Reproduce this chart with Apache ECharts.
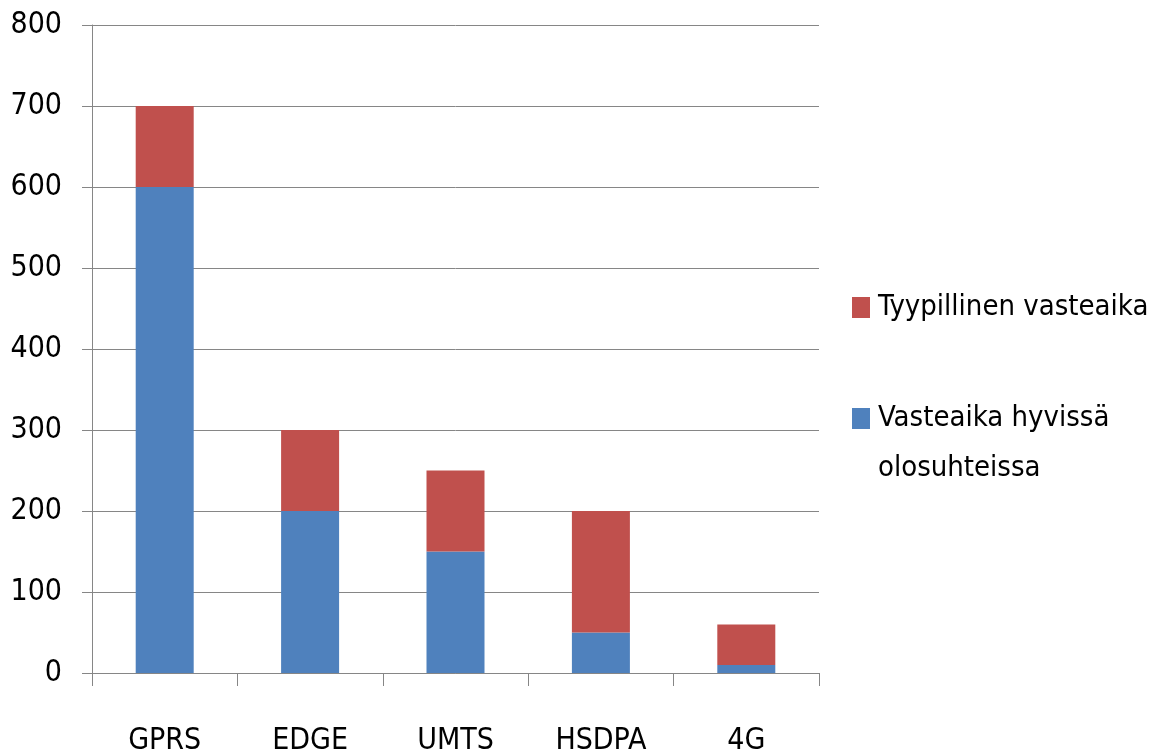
<!DOCTYPE html>
<html><head><meta charset="utf-8">
<script src="https://cdn.jsdelivr.net/npm/echarts@6/dist/echarts.min.js"></script>
<style>html,body{margin:0;padding:0;background:#fff}#c{width:1167px;height:756px}</style>
</head><body><div id="c"></div>
<script>
const categories = ['GPRS', 'EDGE', 'UMTS', 'HSDPA', '4G'];
const goodConditions = [600, 200, 150, 50, 10];
const typical = [100, 100, 100, 150, 50];
const seriesNames = ['Vasteaika hyvissä olosuhteissa', 'Tyypillinen vasteaika'];
const blueLegendLines = ['Vasteaika hyvissä', 'olosuhteissa'];
const yTicks = { min: 0, max: 800, interval: 100 };

const FONT = '"DejaVu Sans Condensed", sans-serif';
const chart = echarts.init(document.getElementById('c'));
chart.setOption({
  animation: false,
  textStyle: { fontFamily: FONT },
  grid: { left: 92, right: 348, top: 25, bottom: 81, containLabel: false },
  legend: [
    { orient: 'vertical', left: 852, top: 293, padding: 0, itemWidth: 18, itemHeight: 21, itemGap: 0,
      data: [seriesNames[1]], icon: 'rect',
      textStyle: { fontFamily: FONT, fontSize: 29, color: '#000', lineHeight: 21, padding: [0, 0, 0, 3] } },
    { orient: 'vertical', left: 852, top: 404, padding: 0, itemWidth: 18, itemHeight: 21, itemGap: 0,
      data: [seriesNames[0]], icon: 'rect',
      formatter: () => blueLegendLines[0],
      textStyle: { fontFamily: FONT, fontSize: 29, color: '#000', lineHeight: 21, padding: [0, 0, 0, 3] } }
  ],
  graphic: [
    { type: 'text', left: 878, top: 454,
      style: { text: blueLegendLines[1], fontFamily: FONT, fontSize: 29, fill: '#000' } }
  ],
  xAxis: {
    type: 'category', data: categories,
    axisLine: { lineStyle: { color: '#868686', width: 1 } },
    axisTick: { show: true, length: 13, alignWithLabel: false, lineStyle: { color: '#868686' } },
    axisLabel: { fontFamily: FONT, fontSize: 30, color: '#000', margin: 53 }
  },
  yAxis: {
    type: 'value', min: yTicks.min, max: yTicks.max, interval: yTicks.interval,
    axisLine: { show: true, lineStyle: { color: '#868686', width: 1 } },
    axisTick: { show: true, length: 10, lineStyle: { color: '#868686' } },
    splitLine: { lineStyle: { color: '#868686', width: 1 } },
    axisLabel: { fontFamily: FONT, fontSize: 30, color: '#000', margin: 30 }
  },
  series: [
    { name: seriesNames[0], type: 'bar', stack: 's', data: goodConditions, barWidth: 58,
      itemStyle: { color: '#4F81BD' } },
    { name: seriesNames[1], type: 'bar', stack: 's', data: typical, barWidth: 58,
      itemStyle: { color: '#C0504D' } }
  ]
});
</script></body></html>
